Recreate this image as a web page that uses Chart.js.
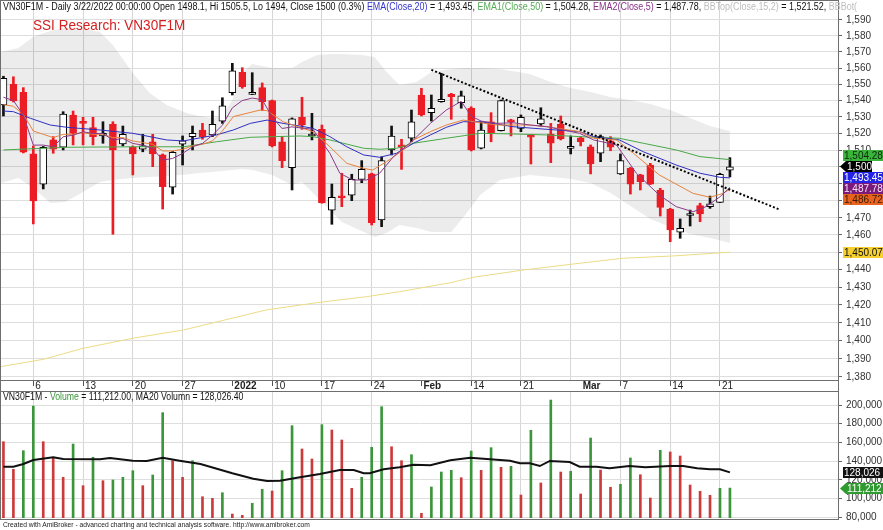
<!DOCTYPE html>
<html>
<head>
<meta charset="utf-8">
<script src="https://cdn.jsdelivr.net/npm/chart.js@4.4.1/dist/chart.umd.min.js"></script>
<style>
  body { margin: 0; background: #fff; font-family: "Liberation Sans", Arial, sans-serif; }
  #wrap { position: relative; width: 883px; height: 530px; overflow: hidden; background: #fff; }
  canvas { position: absolute; left: 0; }
  .txt { position: absolute; white-space: nowrap; line-height: 1; transform-origin: 0 0; }
  .frame { position: absolute; border: 1px solid #6e6e6e; pointer-events: none; }
  .hl { position: absolute; height: 1px; background: #6e6e6e; }
</style>
</head>
<body>
<div id="wrap">
  <canvas id="price" width="883" height="392" style="top:0"></canvas>
  <canvas id="vol" width="883" height="139" style="top:391px"></canvas>
  <div class="frame" style="left:0;top:0;width:837px;height:518px"></div>
  <div class="hl" style="left:0;top:380px;width:838px"></div>
  <div class="hl" style="left:0;top:391px;width:838px"></div>

  <div class="txt" data-w="854" style="left:3px;top:2px;font-size:10px;color:#111">VN30F1M - Daily 3/22/2022 00:00:00 Open 1498.1, Hi 1505.5, Lo 1494, Close 1500 (0.3%) <span style="color:#3333cc">EMA(Close,20)</span> = 1,493.45, <span style="color:#55aa55">EMA1(Close,50)</span> = 1,504.28, <span style="color:#883388">EMA2(Close,5)</span> = 1,487.78, <span style="color:#bdbdbd">BBTop(Close,15,2)</span> = 1,521.52, <span style="color:#bdbdbd">BBBot(</span></div>
  <div class="txt" data-w="152" style="left:33px;top:17px;font-size:15px;color:#d42020">SSI Research: VN30F1M</div>
  <div class="txt" data-w="240" style="left:3px;top:392px;font-size:10px;color:#111">VN30F1M - <span style="color:#3c963c">Volume</span> = 111,212.00, MA20 Volumn = 128,026.40</div>
  <div class="txt" data-w="307" style="left:3px;top:521px;font-size:7px;color:#222">Created with AmiBroker - advanced charting and technical analysis software. http://www.amibroker.com</div>
</div>

<script>
// bars are indexed by trading day, 0 = Mon 6 Dec 2021, last bar (70) = 22 Mar 2022
const firstIdx = -3;

const opens = [1537.3, 1550.0, 1545.0, 1507.7, 1489.8, 1516.1, 1511.7, 1531.2, 1527.1, 1523.5,
  1518.5, 1525.5, 1513.7, 1511.7, 1510.5, 1515.0, 1507.1, 1487.9, 1513.5, 1518.1,
  1522.1, 1519.1, 1527.5, 1544.8, 1557.3, 1543.8, 1547.9, 1539.9, 1515.0, 1499.5,
  1529.8, 1518.5, 1522.5, 1474.5, 1482.9, 1483.3, 1492.6, 1495.8, 1468.7, 1510.1,
  1513.1, 1517.1, 1543.4, 1532.6, 1539.3, 1543.8, 1538.7, 1535.3, 1511.1, 1527.1,
  1521.7, 1528.1, 1523.1, 1518.5, 1525.7, 1519.7, 1525.7, 1511.0, 1517.4, 1512.0,
  1508.1, 1515.5, 1495.8, 1499.1, 1495.2, 1501.1, 1486.3, 1475.1, 1461.6, 1471.3,
  1477.1, 1476.5, 1479.0, 1498.1];
const highs = [1554.9, 1554.6, 1547.9, 1512.5, 1512.2, 1518.1, 1533.2, 1533.6, 1529.8, 1529.8,
  1527.1, 1527.1, 1524.5, 1512.5, 1519.5, 1519.5, 1507.7, 1509.2, 1518.5, 1524.5,
  1526.1, 1533.6, 1541.7, 1562.9, 1560.2, 1557.1, 1550.8, 1540.3, 1518.1, 1529.4,
  1542.0, 1532.2, 1525.1, 1489.8, 1496.2, 1495.6, 1503.7, 1496.3, 1505.9, 1524.5,
  1516.5, 1534.2, 1547.5, 1543.4, 1556.7, 1544.4, 1545.8, 1536.2, 1527.1, 1532.6,
  1540.3, 1528.6, 1531.2, 1519.1, 1535.6, 1526.1, 1530.6, 1518.5, 1518.1, 1513.1,
  1519.1, 1518.1, 1507.7, 1499.7, 1495.6, 1502.1, 1487.3, 1475.5, 1469.3, 1474.5,
  1478.5, 1482.7, 1496.2, 1505.5];
const lows = [1530.6, 1539.1, 1508.3, 1466.4, 1486.9, 1508.1, 1510.1, 1513.1, 1513.1, 1513.1,
  1514.1, 1460.4, 1512.5, 1495.2, 1509.0, 1500.1, 1475.1, 1483.9, 1501.1, 1510.1,
  1516.5, 1518.1, 1526.1, 1543.4, 1547.5, 1543.6, 1533.8, 1511.9, 1499.5, 1486.3,
  1522.5, 1516.1, 1478.5, 1466.2, 1476.5, 1480.0, 1490.6, 1465.8, 1464.8, 1507.1,
  1498.5, 1515.0, 1530.6, 1527.5, 1539.0, 1528.6, 1535.3, 1509.5, 1510.7, 1515.0,
  1521.5, 1518.5, 1521.1, 1501.7, 1524.5, 1502.5, 1516.1, 1507.7, 1512.5, 1495.8,
  1503.1, 1509.6, 1495.5, 1483.9, 1486.3, 1489.5, 1471.0, 1456.1, 1458.1, 1465.2,
  1467.7, 1475.5, 1478.9, 1494.0];
const closes = [1553.6, 1539.7, 1508.7, 1479.8, 1511.7, 1510.5, 1531.8, 1520.1, 1526.1, 1518.1,
  1520.1, 1510.1, 1519.5, 1507.7, 1512.5, 1507.7, 1488.2, 1508.7, 1515.5, 1520.1,
  1518.1, 1525.5, 1536.7, 1558.3, 1548.5, 1545.0, 1539.3, 1512.5, 1503.7, 1528.8,
  1525.1, 1519.5, 1478.8, 1482.0, 1481.7, 1492.6, 1498.5, 1467.1, 1503.7, 1518.5,
  1512.0, 1527.1, 1531.2, 1535.3, 1540.8, 1542.3, 1542.8, 1510.1, 1522.1, 1520.5,
  1539.9, 1527.1, 1529.8, 1517.7, 1528.8, 1514.1, 1516.7, 1511.1, 1515.0, 1501.7,
  1518.1, 1511.7, 1503.7, 1489.8, 1491.2, 1489.8, 1476.1, 1462.9, 1463.9, 1471.9,
  1472.2, 1478.1, 1495.5, 1500.0];
const volumes = [160800, 131300, 151200, 198900, 160800, 144100, 122700, 158300, 113800, 144100,
  119100, 119900, 122700, 129800, 113800, 125200, 191800, 140500, 122700, 140500,
  102000, 100300, 106300, 83500, 82100, 95000, 109900, 108100, 129800, 177900,
  153000, 142300, 179000, 173300, 162600, 111000, 122700, 154800, 198200, 155400,
  140500, 146900, 84300, 112400, 128400, 130200, 122300, 150800, 130200, 154400,
  133400, 134500, 103800, 173000, 116700, 205300, 128400, 129200, 104900, 164700,
  130500, 112100, 115300, 143400, 125500, 100600, 151600, 149800, 145500, 114500,
  107800, 103500, 111000, 111212];

// indicator lines, read at the bar positions given in the *X arrays
const ema5X = [-3, -2, -1, 0, 1, 2, 3, 4, 5, 6, 7, 8, 9, 10, 11, 12, 13, 14, 15, 16, 17, 18, 19, 20, 21, 22, 23, 24, 25, 26,
  28.1, 29.8, 30.8, 32.1, 33.5, 34.8, 36.2, 38.2, 39.9, 41.5, 43, 44, 45, 46.6, 48.2, 49.9, 51.6, 54.9,
  56.3, 58.6, 60.6, 62.9, 64.6, 66.3, 67.6, 69, 70];
const ema5Y = [1542, 1540, 1531, 1513, 1513, 1512, 1518, 1519, 1521, 1520, 1520, 1516, 1517, 1514, 1513, 1511, 1504, 1505, 1508, 1512,
  1514, 1519, 1525, 1535.5, 1540, 1541.5, 1540.5, 1530, 1523, 1524,
  1522.5, 1508.1, 1496.2, 1492.2, 1492.2, 1496.2, 1506.1, 1516.1, 1526.1, 1534.2, 1539.5, 1530.5, 1527.5, 1526.1, 1526.5, 1525.1, 1524.1, 1520.1,
  1516.1, 1513.1, 1496.2, 1483.3, 1476.5, 1473.5, 1476.5, 1482.3, 1487.78];
const ema10X = [-3, -2, -1, 0, 1, 2, 3, 4, 5, 6, 7, 8, 9, 10, 11, 12, 13, 14, 15, 16, 17, 18, 19, 20.1, 22.8, 23.5, 25.1,
  28.1, 29.8, 31.5, 33.2, 34.1, 35.5, 37.2, 38.2, 39.9, 41.5, 43.2, 44.9, 46.6, 49.9, 51.6, 54.9,
  56.3, 58.6, 60.3, 62.9, 66.3, 68, 69.3, 70];
const ema10Y = [1537.5, 1536.5, 1531.5, 1521.5, 1519.5, 1517.5, 1519.5, 1519.5, 1520.5, 1519.5, 1519.5, 1517.5, 1517.5, 1515.5,
  1514.5, 1513.5, 1509.5, 1509.5, 1510.5, 1512.5, 1513.5, 1515.5, 1521.5, 1530.2, 1534.2, 1533.8, 1527.1,
  1521.1, 1512.0, 1502.1, 1499.1, 1498.1, 1503.1, 1510.1, 1516.1, 1521.1, 1525.1, 1528.1, 1526.5, 1525.1, 1525.1, 1524.1, 1521.1,
  1517.1, 1516.1, 1508.1, 1495.2, 1484.3, 1482.0, 1484.3, 1486.72];
const ema20X = [-3, -2, -0.3, 1.7, 3.4, 6.7, 10, 13.4, 15.1, 16.8, 18.4, 20.1, 21.8, 23.5, 25.1, 26.8, 28.1, 29.8, 31.5,
  33.2, 34.8, 36.5, 38.2, 39.9, 41.5, 43.2, 44.9, 46.6, 48.2, 51.6, 54.9, 56.3, 58.9, 61.3, 64.6, 67, 69, 70];
const ema20Y = [1533.6, 1533.2, 1529.2, 1525.1, 1523.7, 1522.1, 1520.1, 1516.1, 1515.5, 1517.4, 1519.1, 1522.1, 1526.1, 1528.1,
  1526.1, 1524.5, 1523.1, 1518.1, 1512.0, 1507.1, 1505.7, 1508.1, 1514.1, 1519.1, 1523.7, 1527.1, 1527.1, 1525.7, 1524.1,
  1522.5, 1521.1, 1518.1, 1516.1, 1509.0, 1501.1, 1496.2, 1493.8, 1493.45];
const ema50X = [-3, 3.4, 10, 15.1, 18.4, 21.8, 26.8, 28.1, 29.8, 33.2, 34.8, 36.5, 38.2, 41.5, 44.9, 48.2, 51.6, 54.9,
  56.3, 58.9, 61.3, 64.6, 67, 70];
const ema50Y = [1510.1, 1511.7, 1512.0, 1512.0, 1515.0, 1517.7, 1518.5, 1518.1, 1516.1, 1511.1, 1510.5, 1511.1, 1514.1, 1517.1,
  1520.1, 1519.7, 1519.1, 1518.1, 1517.7, 1517.1, 1514.1, 1510.1, 1506.1, 1504.28];
const ma200X = [-3.35, 1, 5, 10, 15.1, 23.4, 28.5, 33.5, 36.8, 41.9, 44.2, 49.2, 54.3, 59.3, 64.3, 70];
const ma200Y = [1385.6, 1389.7, 1395.8, 1401.4, 1406.0, 1417.2, 1421.3, 1424.7, 1427.5, 1432.6, 1435.7, 1439.8, 1443.3,
  1446.6, 1447.9, 1450.07];

// Bollinger band (15, 2)
const bbX = [-3.3, -1.5, 0, 1.7, 3.2, 5, 6.7, 8, 10, 11.7, 13.4, 15.4, 16.7, 18, 19, 20, 21, 22, 24, 26, 27, 28.5, 30, 31, 33,
  34.3, 35.5, 36.8, 38.5, 40, 42, 43.4, 44.9, 46.9, 49.9, 52, 54, 56, 58, 60, 62, 64, 66, 68, 70];
const bbTop = [1569.9, 1572.4, 1579.5, 1583.0, 1585.0, 1585.0, 1582.5, 1574.3, 1556.9, 1544.6, 1537.3, 1532.4, 1530.6, 1529.4,
  1530.6, 1540.3, 1557.5, 1562.5, 1560.0, 1560.0, 1563.7, 1568.1, 1568.7, 1568.7, 1568.1, 1566.8, 1557.5, 1549.5, 1551.4,
  1557.5, 1559.4, 1560.0, 1560.0, 1559.4, 1556.3, 1551.4, 1547.7, 1545.2, 1542.2, 1540.3, 1537.9, 1534.2, 1529.4, 1524.5, 1521.52];
const bbBot = [1490.4, 1493.4, 1487.5, 1478.6, 1479.2, 1485.1, 1491.0, 1492.2, 1493.4, 1494.0, 1494.6, 1495.5, 1496.3, 1496.9,
  1497.5, 1498.1, 1498.7, 1498.1, 1495.2, 1489.2, 1491.0, 1482.2, 1473.4, 1467.5, 1462.3, 1458.8, 1461.1, 1465.8, 1464.0,
  1461.7, 1461.7, 1471.6, 1483.3, 1492.2, 1495.2, 1494.0, 1492.8, 1490.4, 1484.5, 1476.9, 1469.3, 1464.6, 1460.6, 1458.3, 1455.35];

// hand drawn resistance line
const trendX = [40, 74.9];
const trendY = [1558.8, 1475.0];

// 20 day average of volume
const maVolX = [-3, -2, -1, 0, 2, 3, 6.7, 7.7, 10, 11.4, 13, 14.7, 16.8, 20, 22.1, 23.5, 24.8, 26.8, 28.8, 30.8, 32.2, 33.2,
  33.8, 35.2, 36.8, 38.2, 39.9, 41.9, 43.9, 45.9, 47.9, 48.9, 49.9, 50.9, 51.9, 53.9, 54.9, 56.6, 57.9, 59.9, 61.5, 64,
  65.3, 66.7, 68, 69, 70];
const maVolY = [134100, 134100, 137000, 141200, 144100, 142300, 142000, 143400, 140500, 140100, 143700, 140500, 137000,
  127000, 121300, 118800, 119100, 122700, 126300, 130500, 130500, 127000, 127000, 131300, 133400, 136200, 135700, 141000,
  143700, 142000, 140500, 137700, 137700, 134800, 140200, 139000, 134100, 134100, 132400, 134800, 133400, 134800, 134800,
  132400, 131300, 131300, 128026];

// axes
const dateTickIdx = [0, 5, 10, 15, 20, 24, 29, 34, 39, 44, 49, 54, 55, 59, 64, 69];
const dateTickText = ['6', '13', '20', '27', '2022', '10', '17', '24', 'Feb', '14', '21', '', 'Mar', '7', '14', '21'];
const boldIdx = [20, 39, 55];
const noMarkIdx = [54, 55];
const gridIdx = [0, 5, 10, 15, 24, 29, 34, 44, 49, 54, 59, 64, 69];
const priceTicks = [1380, 1390, 1400, 1410, 1420, 1430, 1440, 1450, 1460, 1470, 1480, 1490, 1500, 1510, 1520,
  1530, 1540, 1550, 1560, 1570, 1580, 1590];
const volTicks = [80000, 100000, 120000, 140000, 160000, 180000, 200000];

const xMin = -3.246, xMax = 80.86;
const yMin = 1377.81, yMax = 1602.03;
const volMin = 79252, volMax = 213896;

const RED = '#ec1c24';
const VRED = '#cc3b3b';
const VGREEN = '#3b963b';

Chart.defaults.font.family = '"Liberation Sans", Arial, sans-serif';
Chart.defaults.font.size = 10;
Chart.defaults.color = '#333';

const pts = (xs, ys) => xs.map((x, i) => ({x: x, y: ys[i]}));
const last = closes.length - 1;
const fmt2 = v => v.toLocaleString('en-US', {minimumFractionDigits: 2, maximumFractionDigits: 2});
const fmt0 = v => Math.round(v).toLocaleString('en-US');
const tickVal = c => (c && c.tick) ? c.tick.value : null;

// keep the plot area exactly where the layout padding puts it
function noLabelPadding(s) {
  s.paddingTop = 0;
  s.paddingBottom = 0;
  s.paddingLeft = 0;
  s.paddingRight = 0;
}

function lineSet(xs, ys, color, order, extra) {
  return Object.assign({type: 'line', data: pts(xs, ys), borderColor: color, borderWidth: 1,
    pointRadius: 0, tension: 0, fill: false, order: order}, extra || {});
}

// value tags on the right axis, pushed apart around the arrow tag
const tagPlugin = {
  id: 'tags',
  afterDraw(chart, args, opts) {
    const ctx = chart.ctx, ys = chart.scales.y, right = chart.chartArea.right, h = 11;
    const items = opts.items.map(t => Object.assign({}, t, {py: ys.getPixelForValue(t.value)}));
    const anchor = items.find(t => t.arrow) || items[0];
    const above = items.filter(t => t !== anchor && t.py <= anchor.py).sort((a, b) => b.py - a.py);
    const below = items.filter(t => t !== anchor && t.py > anchor.py).sort((a, b) => a.py - b.py);
    let prev = anchor.py;
    above.forEach(t => { t.py = Math.min(t.py, prev - h); prev = t.py; });
    prev = anchor.py;
    below.forEach(t => { t.py = Math.max(t.py, prev + h); prev = t.py; });
    ctx.save();
    ctx.font = '10px "Liberation Sans", Arial, sans-serif';
    ctx.textBaseline = 'middle';
    items.forEach(t => {
      const x0 = right + (t.arrow ? 8 : 5);
      const x1 = t.w ? x0 + t.w : chart.width;
      const top = Math.round(t.py - h / 2);
      ctx.fillStyle = t.bg;
      ctx.beginPath();
      if (t.arrow) {
        ctx.moveTo(right + 2, top + h / 2);
        ctx.lineTo(x0, top);
        ctx.lineTo(x1, top);
        ctx.lineTo(x1, top + h);
        ctx.lineTo(x0, top + h);
        ctx.closePath();
      } else {
        ctx.rect(x0, top, x1 - x0, h);
      }
      ctx.fill();
      ctx.fillStyle = t.fg;
      ctx.fillText(t.text, x0 + 1, top + h / 2 + 0.5);
    });
    ctx.restore();
  }
};

// price pane
const bodies = closes.map((c, i) => ({x: firstIdx + i, y: [opens[i], c]}));
const wicks = highs.map((hi, i) => ({x: firstIdx + i, y: [lows[i], hi]}));
const up = closes.map((c, i) => c >= opens[i]);

const priceTags = [
  {value: ema50Y[ema50Y.length - 1], text: fmt2(ema50Y[ema50Y.length - 1]), bg: '#3bb43b', fg: '#0d260d'},
  {value: closes[last], text: closes[last].toLocaleString('en-US'), bg: '#000', fg: '#fff', arrow: true, w: 26},
  {value: ema20Y[ema20Y.length - 1], text: fmt2(ema20Y[ema20Y.length - 1]), bg: '#2424e8', fg: '#fff'},
  {value: ema5Y[ema5Y.length - 1], text: fmt2(ema5Y[ema5Y.length - 1]), bg: '#7c1a7c', fg: '#f4e4f4'},
  {value: ema10Y[ema10Y.length - 1], text: fmt2(ema10Y[ema10Y.length - 1]), bg: '#e8641e', fg: '#3a1800'},
  {value: ma200Y[ma200Y.length - 1], text: fmt2(ma200Y[ma200Y.length - 1]), bg: '#f5d02e', fg: '#111'}
];

new Chart(document.getElementById('price'), {
  type: 'bar',
  data: {
    datasets: [
      lineSet(trendX, trendY, '#000', 0, {borderWidth: 2, borderDash: [2, 2]}),
      lineSet(ema5X, ema5Y, '#8b3a8b', 1),
      lineSet(ema10X, ema10Y, '#e8823c', 1),
      lineSet(ema20X, ema20Y, '#2f2fc0', 1),
      lineSet(ema50X, ema50Y, '#48a848', 1),
      {type: 'bar', data: bodies, grouped: false, barThickness: 7, minBarLength: 2, borderWidth: 1,
        borderSkipped: false, backgroundColor: up.map(u => u ? '#fff' : RED),
        borderColor: up.map(u => u ? '#000' : RED), order: 2},
      {type: 'bar', data: wicks, grouped: false, barThickness: 2, borderWidth: 0,
        backgroundColor: up.map(u => u ? '#111' : RED), order: 3},
      lineSet(ma200X, ma200Y, '#ebdc86', 4),
      {type: 'line', data: pts(bbX, bbTop), fill: '+1', backgroundColor: 'rgba(0,0,0,0.075)',
        borderColor: 'rgba(0,0,0,0)', borderWidth: 0, pointRadius: 0, order: 5},
      {type: 'line', data: pts(bbX, bbBot), fill: false, borderColor: 'rgba(0,0,0,0)',
        borderWidth: 0, pointRadius: 0, order: 6}
    ]
  },
  options: {
    responsive: false,
    animation: false,
    events: [],
    layout: {padding: {left: 1, top: 1, right: 0, bottom: 0}},
    plugins: {legend: {display: false}, tooltip: {enabled: false}, tags: {items: priceTags}},
    scales: {
      x: {
        type: 'linear', min: xMin, max: xMax, offset: false, bounds: 'data',
        afterBuildTicks: s => { s.ticks = dateTickIdx.map(v => ({value: v})); },
        afterFit: s => { s.height = 11; noLabelPadding(s); },
        border: {display: false},
        grid: {
          offset: false, tickLength: 5,
          color: c => gridIdx.includes(tickVal(c)) ? '#d6d6d6' : 'rgba(0,0,0,0)',
          tickColor: c => noMarkIdx.includes(tickVal(c)) ? 'rgba(0,0,0,0)' : '#555'
        },
        ticks: {
          autoSkip: false, maxRotation: 0, align: 'start', labelOffset: 2, padding: -6, color: '#222',
          font: c => ({size: 10, weight: boldIdx.includes(tickVal(c)) ? 'bold' : 'normal'}),
          callback: (v, i) => dateTickText[i]
        }
      },
      y: {
        type: 'logarithmic', position: 'right', min: yMin, max: yMax, bounds: 'data',
        afterBuildTicks: s => { s.ticks = priceTicks.map(v => ({value: v})); },
        afterFit: s => { s.width = 45; noLabelPadding(s); },
        border: {display: false},
        grid: {color: '#dedede', tickColor: '#666', tickLength: 4},
        ticks: {autoSkip: false, padding: 4, color: '#333', callback: v => v.toLocaleString('en-US')}
      }
    }
  },
  plugins: [tagPlugin]
});

// volume pane
const volColors = volumes.map((v, i) => (i > 0 && v >= volumes[i - 1]) ? VGREEN : VRED);
const volTags = [
  {value: maVolY[maVolY.length - 1], text: fmt0(maVolY[maVolY.length - 1]), bg: '#111', fg: '#fff'},
  {value: volumes[last], text: fmt0(volumes[last]), bg: '#2f9a2f', fg: '#fff', arrow: true}
];

new Chart(document.getElementById('vol'), {
  type: 'bar',
  data: {
    datasets: [
      lineSet(maVolX, maVolY, '#111', 0, {borderWidth: 2}),
      {type: 'bar', data: volumes.map((v, i) => ({x: firstIdx + i, y: v})), base: volMin,
        barThickness: 2, borderWidth: 0, backgroundColor: volColors, order: 1}
    ]
  },
  options: {
    responsive: false,
    animation: false,
    events: [],
    layout: {padding: {left: 1, top: 1, right: 0, bottom: 12}},
    plugins: {legend: {display: false}, tooltip: {enabled: false}, tags: {items: volTags}},
    scales: {
      x: {
        type: 'linear', min: xMin, max: xMax, offset: false, bounds: 'data',
        afterBuildTicks: s => { s.ticks = gridIdx.map(v => ({value: v})); },
        afterFit: s => { s.height = 0; noLabelPadding(s); },
        border: {display: false},
        grid: {color: '#d6d6d6', drawTicks: false, offset: false},
        ticks: {display: false}
      },
      y: {
        type: 'linear', position: 'right', min: volMin, max: volMax, bounds: 'data',
        afterBuildTicks: s => { s.ticks = volTicks.map(v => ({value: v})); },
        afterFit: s => { s.width = 45; noLabelPadding(s); },
        border: {display: false},
        grid: {color: '#dedede', tickColor: '#666', tickLength: 4},
        ticks: {autoSkip: false, padding: 4, color: '#333', callback: v => v.toLocaleString('en-US')}
      }
    }
  },
  plugins: [tagPlugin]
});

// squeeze the text lines to the widths they have in the picture
document.querySelectorAll('.txt[data-w]').forEach(el => {
  const w = el.scrollWidth;
  if (w > 0) el.style.transform = 'scaleX(' + (Number(el.dataset.w) / w) + ')';
});
</script>
</body>
</html>
